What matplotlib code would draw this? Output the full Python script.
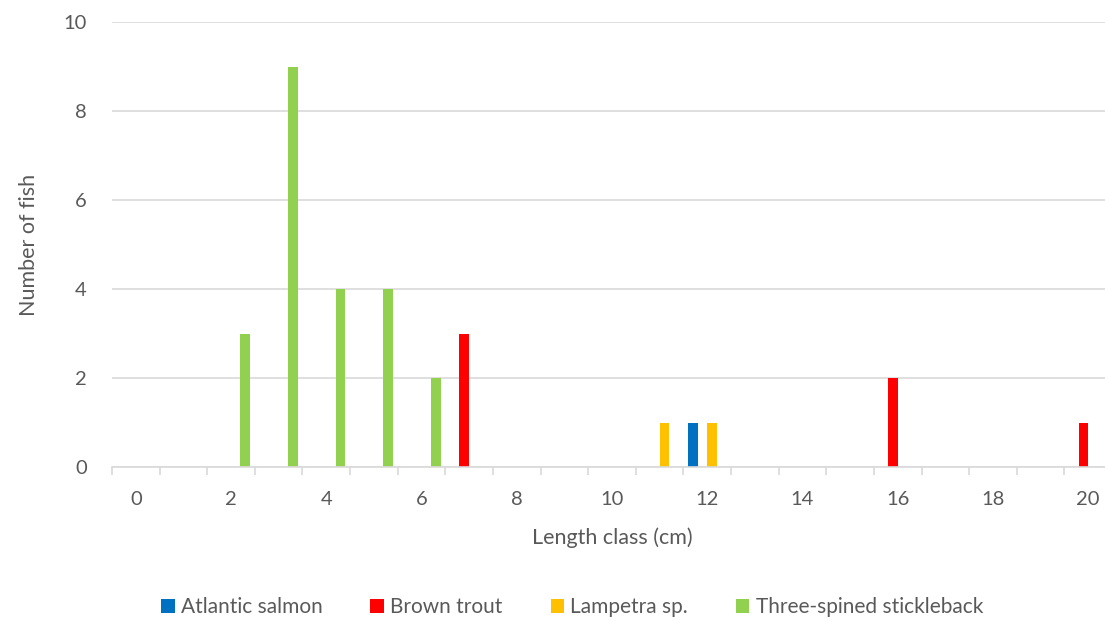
import matplotlib.pyplot as plt
import numpy as np
from matplotlib.patches import Patch

# length classes (cm)
length_classes = list(range(0, 21))

# counts per length class
atlantic_salmon = {12: 1}
brown_trout = {7: 3, 16: 2, 20: 1}
lampetra = {11: 1, 12: 1}
stickleback = {2: 3, 3: 9, 4: 4, 5: 4, 6: 2}

series_names = ["Atlantic salmon", "Brown trout", "Lampetra sp.", "Three-spined stickleback"]
series_data = [atlantic_salmon, brown_trout, lampetra, stickleback]
colors = ["#0070C0", "#FF0000", "#FFC000", "#92D050"]

plt.rcParams["font.family"] = ["Lato", "DejaVu Sans"]
text_color = "#595959"
grid_color = "#D9D9D9"

fig = plt.figure(figsize=(11.05, 6.2), dpi=100)
ax = fig.add_axes([112 / 1105, 1 - 467 / 620, 1000 / 1105, (467 - 22) / 620])

x = np.arange(len(length_classes))
width = 0.205
offsets = [-0.3, -0.1, 0.1, 0.3]

for name, data, color, off in zip(series_names, series_data, colors, offsets):
    values = [data.get(c, 0) for c in length_classes]
    ax.bar(x + off, values, width=width, color=color, label=name, zorder=3)

ax.set_xlim(-0.5, len(length_classes) - 0.5)
ax.set_ylim(0, 10)
ax.set_yticks(range(0, 11, 2))
ax.yaxis.grid(True, color=grid_color, linewidth=1.2, zorder=0)

# labels on even classes, tick marks on category boundaries
ax.set_xticks(x[::2])
ax.set_xticklabels([str(c) for c in length_classes[::2]])
ax.set_xticks(np.arange(-0.5, len(length_classes), 1.0), minor=True)
ax.tick_params(axis="x", which="major", length=0, pad=17, labelsize=14.5, labelcolor=text_color)
ax.tick_params(axis="x", which="minor", length=6, width=1.2, color=grid_color)
ax.tick_params(axis="y", length=0, pad=18, labelsize=14.5, labelcolor=text_color)

for side in ["top", "right", "left"]:
    ax.spines[side].set_visible(False)
ax.spines["bottom"].set_color(grid_color)
ax.spines["bottom"].set_linewidth(1.2)
ax.spines["bottom"].set_zorder(4)

ax.set_xlabel("Length class (cm)", fontsize=15.5, color=text_color, labelpad=14)
ax.set_ylabel("Number of fish", fontsize=15.5, color=text_color, labelpad=18)

handles = [Patch(facecolor=c, label=n) for n, c in zip(series_names, colors)]
fig.legend(
    handles=handles,
    loc="center",
    bbox_to_anchor=(572 / 1105, 1 - 607 / 620),
    ncol=4,
    frameon=False,
    fontsize=15,
    labelcolor=text_color,
    handlelength=0.65,
    handleheight=0.65,
    handletextpad=0.3,
    columnspacing=2.3,
)

fig.savefig("out.png", dpi=100)
plt.close(fig)
